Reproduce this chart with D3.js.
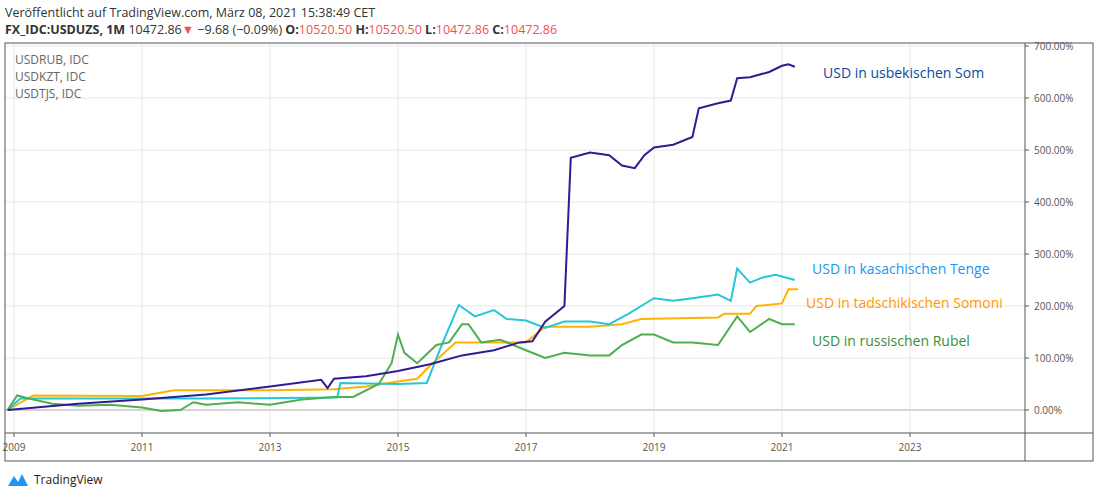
<!DOCTYPE html>
<html><head><meta charset="utf-8">
<script src="https://cdn.jsdelivr.net/npm/d3@7"></script>
<style>body{margin:0;background:#fff;font-family:"Open Sans",sans-serif}</style>
</head><body><div id="main"></div>
<script>
const width = 1100, height = 498;

// [year, percent]
const uzsData = [[2008.9,0],[2010,12],[2011,20],[2012,30],[2013,45],[2013.8,58],[2013.9,42],[2014,60],[2014.5,65],[2015,75],[2015.5,88],[2016,105],[2016.5,115],[2016.9,130],[2017.1,132],[2017.3,170],[2017.6,200],[2017.7,485],[2018,495],[2018.3,490],[2018.5,470],[2018.7,465],[2018.85,490],[2019,505],[2019.3,510],[2019.6,525],[2019.7,580],[2020,590],[2020.2,595],[2020.3,638],[2020.5,640],[2020.8,650],[2021,662],[2021.1,665],[2021.2,660]];
const kztData = [[2008.9,0],[2009.1,22],[2010,22],[2012,22],[2014.05,24],[2014.1,52],[2015,50],[2015.45,52],[2015.7,130],[2015.95,202],[2016.2,180],[2016.5,192],[2016.7,175],[2017,172],[2017.3,158],[2017.6,170],[2018,170],[2018.3,165],[2018.6,185],[2018.8,200],[2019,215],[2019.3,210],[2019.6,215],[2020,222],[2020.2,210],[2020.3,272],[2020.5,245],[2020.7,255],[2020.9,260],[2021.2,250]];
const tjsData = [[2008.9,0],[2009.3,28],[2011,27],[2011.5,38],[2013,38],[2014,40],[2014.5,45],[2015,55],[2015.3,60],[2015.5,85],[2015.9,130],[2016.5,130],[2017,130],[2017.3,160],[2018,160],[2018.5,165],[2018.8,175],[2020,178],[2020.1,185],[2020.5,185],[2020.6,200],[2021,205],[2021.1,232],[2021.25,232]];
const rubData = [[2008.9,0],[2009.05,28],[2009.3,20],[2009.6,12],[2010,8],[2010.5,10],[2011,5],[2011.3,-2],[2011.6,0],[2011.8,15],[2012,10],[2012.5,15],[2013,10],[2013.5,20],[2014,25],[2014.3,25],[2014.7,50],[2014.9,90],[2015,145],[2015.1,110],[2015.3,90],[2015.6,125],[2015.8,130],[2016,165],[2016.1,165],[2016.3,130],[2016.6,135],[2017,115],[2017.3,100],[2017.6,110],[2018,105],[2018.3,105],[2018.5,125],[2018.8,145],[2019,145],[2019.3,130],[2019.6,130],[2020,125],[2020.3,180],[2020.5,150],[2020.8,175],[2021,165],[2021.2,165]];

const series = [
  {data: tjsData, color: "#ffb300", label: "USD in tadschikischen Somoni", lc: "#ff9800", lx: 806, ly: 308},
  {data: kztData, color: "#26c6da", label: "USD in kasachischen Tenge", lc: "#2196f3", lx: 812, ly: 274},
  {data: rubData, color: "#4caf50", label: "USD in russischen Rubel", lc: "#388e3c", lx: 812, ly: 346},
  {data: uzsData, color: "#311b92", label: "USD in usbekischen Som", lc: "#0d47a1", lx: 823, ly: 78}
];
const yTicks = [0, 100, 200, 300, 400, 500, 600, 700];
const xTicks = [2009, 2011, 2013, 2015, 2017, 2019, 2021, 2023];

const pLeft = 5, pRight = 1025, pTop = 43, plotBottom = 433, axisBottom = 461, outerRight = 1093;
const x = d3.scaleLinear().domain([2015, 2021]).range([398, 782]);
const y = d3.scaleLinear().domain([0, 700]).range([410, 46]);

const svg = d3.select("#main").append("svg").attr("width", width).attr("height", height);

svg.append("text").attr("x", 5).attr("y", 17).attr("font-size", 12.5).attr("fill", "#333")
  .text("Veröffentlicht auf TradingView.com, März 08, 2021 15:38:49 CET");
const hdr = svg.append("text").attr("x", 5).attr("y", 34).attr("font-size", 12.5).attr("fill", "#333");
hdr.append("tspan").attr("font-weight", "bold").text("FX_IDC:USDUZS, 1M ");
hdr.append("tspan").text("10472.86");
hdr.append("tspan").attr("fill", "#ef5350").text("▼");
hdr.append("tspan").text(" −9.68 (−0.09%) ");
[["O:", "10520.50"], ["H:", "10520.50"], ["L:", "10472.86"], ["C:", "10472.86"]].forEach(([k, v]) => {
  hdr.append("tspan").attr("font-weight", "bold").text(k);
  hdr.append("tspan").attr("fill", "#ef5350").text(v + " ");
});

// grid
svg.append("g").selectAll("line").data(yTicks).join("line")
  .attr("x1", pLeft).attr("x2", pRight).attr("y1", d => y(d)).attr("y2", d => y(d))
  .attr("stroke", d => d === 0 ? "#aaa" : "#e6e6e6");
svg.append("g").selectAll("line").data(xTicks).join("line")
  .attr("x1", d => x(d)).attr("x2", d => x(d)).attr("y1", pTop).attr("y2", plotBottom)
  .attr("stroke", "#e6e6e6");

// frame
svg.append("rect").attr("x", pLeft).attr("y", pTop).attr("width", outerRight - pLeft).attr("height", axisBottom - pTop)
  .attr("fill", "none").attr("stroke", "#555");
svg.append("line").attr("x1", pRight).attr("x2", pRight).attr("y1", pTop).attr("y2", axisBottom).attr("stroke", "#555");
svg.append("line").attr("x1", pLeft).attr("x2", outerRight).attr("y1", plotBottom).attr("y2", plotBottom).attr("stroke", "#555");

// y axis labels
const ya = svg.append("g");
ya.selectAll("line").data(yTicks).join("line")
  .attr("x1", pRight).attr("x2", pRight + 4).attr("y1", d => y(d)).attr("y2", d => y(d)).attr("stroke", "#555");
ya.selectAll("text").data(yTicks).join("text")
  .attr("x", pRight + 9).attr("y", d => y(d) + 4).attr("font-size", 10).attr("fill", "#555")
  .text(d => d.toFixed(2) + "%");

// x axis labels
const xa = svg.append("g");
xa.selectAll("line").data(xTicks).join("line")
  .attr("x1", d => x(d)).attr("x2", d => x(d)).attr("y1", plotBottom).attr("y2", plotBottom + 4).attr("stroke", "#555");
xa.selectAll("text").data(xTicks).join("text")
  .attr("x", d => x(d)).attr("y", plotBottom + 18).attr("font-size", 10).attr("fill", "#555")
  .attr("text-anchor", "middle").text(d => d);

// lines
const line = d3.line().x(d => x(d[0])).y(d => y(d[1]));
svg.append("clipPath").attr("id", "c").append("rect")
  .attr("x", pLeft).attr("y", pTop).attr("width", pRight - pLeft).attr("height", plotBottom - pTop);
series.forEach(s => {
  svg.append("path").datum(s.data).attr("d", line).attr("fill", "none")
    .attr("stroke", s.color).attr("stroke-width", 2).attr("clip-path", "url(#c)");
  svg.append("text").attr("x", s.lx).attr("y", s.ly).attr("font-size", 14)
    .attr("fill", s.lc).text(s.label);
});

// legend top-left
["USDRUB, IDC", "USDKZT, IDC", "USDTJS, IDC"].forEach((t, i) => {
  svg.append("text").attr("x", 15).attr("y", 64 + i * 17).attr("font-size", 12).attr("fill", "#666").text(t);
});

// logo
svg.append("text").attr("x", 34).attr("y", 484).attr("font-size", 12).attr("fill", "#222").text("TradingView");
svg.append("path").attr("d", "M8 486 L14 476 L18 482 L22 474 L28 486 Z").attr("fill", "#2196f3");
</script></body></html>
